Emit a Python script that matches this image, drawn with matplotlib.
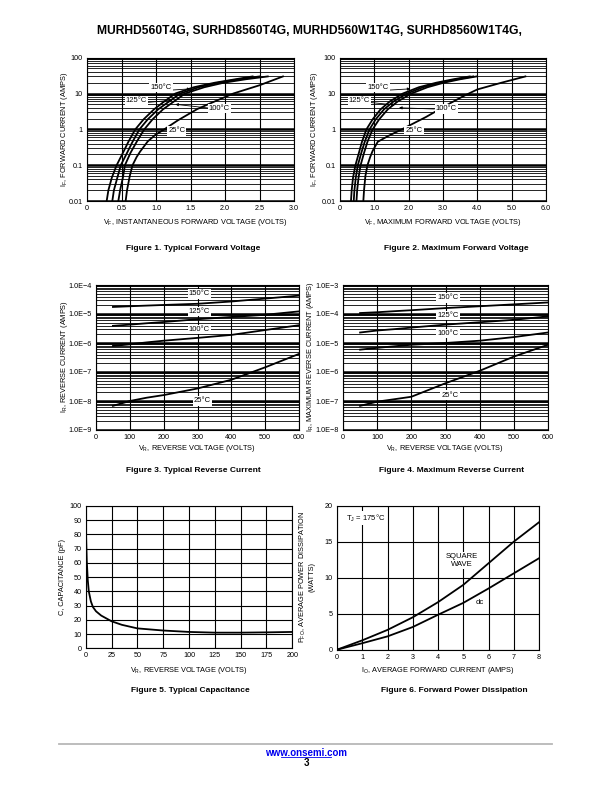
import numpy as np
import matplotlib
matplotlib.use("Agg")
import matplotlib.pyplot as plt
from matplotlib.ticker import LogLocator, NullFormatter

plt.rcParams['font.family'] = ['Liberation Sans', 'DejaVu Sans']
plt.rcParams['mathtext.default'] = 'regular'

W, H = 612, 792

# ---- Figure 1: typical forward voltage ----
if_hot = [0.01, 0.02, 0.045, 0.1, 0.22, 0.45, 1.0, 1.9, 3.6, 6.0, 10, 15, 20, 25, 30]
vf_typ_150 = [0.285, 0.31, 0.36, 0.43, 0.52, 0.60, 0.70, 0.82, 0.97, 1.12, 1.28, 1.55, 1.85, 2.15, 2.40]
vf_typ_125 = [0.367, 0.39, 0.44, 0.49, 0.58, 0.66, 0.76, 0.88, 1.03, 1.19, 1.35, 1.62, 1.90, 2.20, 2.50]
vf_typ_100 = [0.454, 0.48, 0.52, 0.55, 0.63, 0.72, 0.83, 0.95, 1.10, 1.26, 1.42, 1.70, 1.98, 2.30, 2.62]
if_cold = [0.01, 0.02, 0.05, 0.1, 0.17, 0.24, 0.46, 0.7, 1.0, 1.8, 3.7, 6.0, 10, 17, 30]
vf_typ_25 = [0.56, 0.58, 0.62, 0.66, 0.72, 0.77, 0.88, 0.99, 1.12, 1.32, 1.60, 1.85, 2.12, 2.50, 2.84]

# ---- Figure 2: maximum forward voltage ----
vf_max_150 = [0.32, 0.34, 0.38, 0.45, 0.55, 0.64, 0.77, 0.95, 1.18, 1.45, 1.83, 2.30, 2.80, 3.30, 3.78]
vf_max_125 = [0.40, 0.42, 0.46, 0.52, 0.62, 0.72, 0.86, 1.04, 1.28, 1.56, 1.95, 2.42, 2.90, 3.40, 3.88]
vf_max_100 = [0.48, 0.50, 0.54, 0.60, 0.70, 0.80, 0.95, 1.14, 1.39, 1.68, 2.08, 2.55, 3.02, 3.50, 3.98]
if_max_cold = [0.01, 0.02, 0.05, 0.1, 0.17, 0.25, 0.45, 0.65, 1.0, 2.2, 5.3, 8.5, 13, 20, 30]
vf_max_25 = [0.68, 0.70, 0.74, 0.80, 0.88, 0.95, 1.10, 1.40, 1.80, 2.50, 3.20, 3.60, 4.00, 4.70, 5.40]

# ---- Figures 3 / 4: reverse current ----
vr = [50, 100, 150, 200, 300, 400, 500, 600]
ir_typ_150 = [1.75e-5, 1.85e-5, 1.95e-5, 2.05e-5, 2.25e-5, 2.7e-5, 3.4e-5, 4.3e-5]
ir_typ_125 = [3.9e-6, 4.3e-6, 4.8e-6, 5.3e-6, 6.6e-6, 7.9e-6, 9.4e-6, 1.23e-5]
ir_typ_100 = [7.9e-7, 9.0e-7, 1.05e-6, 1.2e-6, 1.5e-6, 1.9e-6, 2.8e-6, 4.1e-6]
ir_typ_25 = [6.8e-9, 1.0e-8, 1.3e-8, 1.6e-8, 2.7e-8, 5.4e-8, 1.45e-7, 4.2e-7]
ir_max_150 = [1.08e-4, 1.15e-4, 1.25e-4, 1.35e-4, 1.6e-4, 1.85e-4, 2.15e-4, 2.5e-4]
ir_max_125 = [2.3e-5, 2.7e-5, 3.0e-5, 3.4e-5, 4.3e-5, 5.2e-5, 6.3e-5, 8.3e-5]
ir_max_100 = [5.9e-6, 6.8e-6, 7.7e-6, 8.7e-6, 1.0e-5, 1.2e-5, 1.6e-5, 2.3e-5]
ir_max_25 = [6.8e-8, 9.5e-8, 1.15e-7, 1.4e-7, 4.1e-7, 1.1e-6, 3.4e-6, 8.7e-6]

# ---- Figure 5: capacitance ----
vr_cap = [0, 0.5, 1, 2, 3, 5, 7, 10, 15, 25, 35, 50, 75, 100, 125, 150, 175, 200]
cap_pf = [92, 75, 62, 48, 40, 33, 29, 26, 23, 19, 16.5, 14, 12.5, 11.5, 11, 11, 11.2, 11.5]

# ---- Figure 6: forward power dissipation ----
io_amps = [0, 1, 2, 3, 4, 5, 6, 7, 8]
pfo_square = [0, 1.3, 2.75, 4.5, 6.6, 9.0, 12.0, 15.0, 17.7]
pfo_dc = [0, 0.9, 1.85, 3.15, 4.85, 6.5, 8.5, 10.6, 12.7]

fig = plt.figure(figsize=(W / 100, H / 100), dpi=100)


def px_axes(l, t, r, b):
    return fig.add_axes([l / W, 1 - b / H, (r - l) / W, (b - t) / H])


def ftext(x, y, s, **kw):
    kw.setdefault('ha', 'center')
    kw.setdefault('va', 'center')
    return fig.text(x / W, 1 - y / H, s, **kw)


def style_axes(ax, log=False):
    for sp in ax.spines.values():
        sp.set_linewidth(0.8)
    ax.tick_params(which='both', length=0, labelsize=5.2, pad=3)
    ax.xaxis.grid(True, which='major', color='k', lw=0.8)
    if log:
        ax.set_yscale('log')
        ax.yaxis.set_minor_locator(LogLocator(base=10, subs=np.arange(2, 10)))
        ax.yaxis.set_minor_formatter(NullFormatter())
        ax.yaxis.grid(True, which='major', color='k', lw=1.8)
        ax.yaxis.grid(True, which='minor', color='k', lw=0.6)
    else:
        ax.yaxis.grid(True, which='major', color='k', lw=0.8)


def tag(ax, x, y, s):
    ax.text(x, y, s, fontsize=5.5, ha='center', va='center',
            bbox=dict(fc='white', ec='none', pad=0.8), zorder=5)


def leader(ax, xy, xytext):
    ax.annotate('', xy=xy, xytext=xytext,
                arrowprops=dict(arrowstyle='-|>', lw=0.6, color='k',
                                mutation_scale=4, shrinkA=0, shrinkB=0), zorder=4)


# Figure 1
ax1 = px_axes(87, 57.7, 294, 201)
style_axes(ax1, log=True)
for v, i in [(vf_typ_150, if_hot), (vf_typ_125, if_hot), (vf_typ_100, if_hot), (vf_typ_25, if_cold)]:
    ax1.plot(v, i, color='k', lw=1.3)
ax1.set_xlim(0, 3.0)
ax1.set_ylim(0.01, 100)
ax1.set_xticks([0, 0.5, 1.0, 1.5, 2.0, 2.5, 3.0])
ax1.set_xticklabels(['0', '0.5', '1.0', '1.5', '2.0', '2.5', '3.0'])
ax1.set_yticks([0.01, 0.1, 1, 10, 100])
ax1.set_yticklabels(['0.01', '0.1', '1', '10', '100'])
leader(ax1, (1.5, 13.5), (1.23, 12.5))
leader(ax1, (1.24, 6.5), (0.85, 5.6))
leader(ax1, (1.28, 5.0), (1.78, 3.9))
tag(ax1, 1.07, 14.8, '150°C')
tag(ax1, 0.715, 6.2, '125°C')
tag(ax1, 1.92, 3.9, '100°C')
tag(ax1, 1.30, 0.9, '25°C')

# Figure 2
ax2 = px_axes(340, 57.7, 546, 201)
style_axes(ax2, log=True)
for v, i in [(vf_max_150, if_hot), (vf_max_125, if_hot), (vf_max_100, if_hot), (vf_max_25, if_max_cold)]:
    ax2.plot(v, i, color='k', lw=1.3)
ax2.set_xlim(0, 6.0)
ax2.set_ylim(0.01, 100)
ax2.set_xticks([0, 1, 2, 3, 4, 5, 6])
ax2.set_xticklabels(['0', '1.0', '2.0', '3.0', '4.0', '5.0', '6.0'])
ax2.set_yticks([0.01, 0.1, 1, 10, 100])
ax2.set_yticklabels(['0.01', '0.1', '1', '10', '100'])
leader(ax2, (2.05, 13.5), (1.45, 12.5))
leader(ax2, (1.6, 4.8), (0.9, 5.6))
leader(ax2, (1.72, 4.0), (2.75, 3.7))
tag(ax2, 1.11, 14.8, '150°C')
tag(ax2, 0.57, 6.2, '125°C')
tag(ax2, 3.10, 3.7, '100°C')
tag(ax2, 2.16, 0.95, '25°C')

# Figure 3
ax3 = px_axes(96, 285, 299, 430)
style_axes(ax3, log=True)
for c in [ir_typ_150, ir_typ_125, ir_typ_100, ir_typ_25]:
    ax3.plot(vr, c, color='k', lw=1.3)
ax3.set_xlim(0, 600)
ax3.set_ylim(1e-9, 1e-4)
ax3.set_xticks(range(0, 601, 100))
ax3.set_yticks([1e-9, 1e-8, 1e-7, 1e-6, 1e-5, 1e-4])
ax3.set_yticklabels(['1.0E\u22129', '1.0E\u22128', '1.0E\u22127', '1.0E\u22126', '1.0E\u22125', '1.0E\u22124'])
tag(ax3, 306, 4.9e-5, '150°C')
tag(ax3, 306, 1.23e-5, '125°C')
tag(ax3, 306, 2.9e-6, '100°C')
tag(ax3, 315, 1.0e-8, '25°C')

# Figure 4
ax4 = px_axes(343, 285, 548, 430)
style_axes(ax4, log=True)
for c in [ir_max_150, ir_max_125, ir_max_100, ir_max_25]:
    ax4.plot(vr, c, color='k', lw=1.3)
ax4.set_xlim(0, 600)
ax4.set_ylim(1e-8, 1e-3)
ax4.set_xticks(range(0, 601, 100))
ax4.set_yticks([1e-8, 1e-7, 1e-6, 1e-5, 1e-4, 1e-3])
ax4.set_yticklabels(['1.0E\u22128', '1.0E\u22127', '1.0E\u22126', '1.0E\u22125', '1.0E\u22124', '1.0E\u22123'])
tag(ax4, 307, 3.6e-4, '150°C')
tag(ax4, 307, 8.9e-5, '125°C')
tag(ax4, 307, 2.1e-5, '100°C')
tag(ax4, 313, 1.6e-7, '25°C')

# Figure 5
ax5 = px_axes(85.7, 506, 292.3, 648.3)
style_axes(ax5)
ax5.plot(vr_cap, cap_pf, color='k', lw=1.3)
ax5.set_xlim(0, 200)
ax5.set_ylim(0, 100)
ax5.set_xticks(range(0, 201, 25))
ax5.set_yticks(range(0, 101, 10))

# Figure 6
ax6 = px_axes(337, 505.7, 539, 649.7)
style_axes(ax6)
ax6.plot(io_amps, pfo_square, color='k', lw=1.3)
ax6.plot(io_amps, pfo_dc, color='k', lw=1.3)
ax6.set_xlim(0, 8)
ax6.set_ylim(0, 20)
ax6.set_xticks(range(0, 9))
ax6.set_yticks([0, 5, 10, 15, 20])
ax6.text(0.35, 18.3, 'T$_J$ = 175°C', fontsize=5.5, ha='left', va='center',
         bbox=dict(fc='white', ec='none', pad=0.8), zorder=5)
ax6.text(4.95, 12.4, 'SQUARE\nWAVE', fontsize=5.5, ha='center', va='center',
         linespacing=1.3, bbox=dict(fc='white', ec='none', pad=0.5), zorder=5)
ax6.text(5.65, 6.55, 'dc', fontsize=5.5, ha='center', va='center',
         bbox=dict(fc='white', ec='none', pad=0.8), zorder=5)

# axis labels
lab = dict(fontsize=5.3)
ftext(195, 223, 'V$_F$, INSTANTANEOUS FORWARD VOLTAGE (VOLTS)', **lab)
ftext(443, 223, 'V$_F$, MAXIMUM FORWARD VOLTAGE (VOLTS)', **lab)
ftext(197, 448, 'V$_R$, REVERSE VOLTAGE (VOLTS)', **lab)
ftext(445, 448, 'V$_R$, REVERSE VOLTAGE (VOLTS)', **lab)
ftext(189, 671, 'V$_R$, REVERSE VOLTAGE (VOLTS)', **lab)
ftext(438, 671, 'I$_O$, AVERAGE FORWARD CURRENT (AMPS)', **lab)
ftext(64, 129, 'I$_F$, FORWARD CURRENT (AMPS)', rotation=90, **lab)
ftext(315, 129, 'I$_F$, FORWARD CURRENT (AMPS)', rotation=90, **lab)
ftext(64, 357, 'I$_R$, REVERSE CURRENT (AMPS)', rotation=90, **lab)
ftext(311, 357, 'I$_R$, MAXIMUM REVERSE CURRENT (AMPS)', rotation=90, **lab)
ftext(63, 577, 'C, CAPACITANCE (pF)', rotation=90, **lab)
ftext(303, 577, 'P$_{FO}$, AVERAGE POWER DISSIPATION', rotation=90, **lab)
ftext(312.5, 577, '(WATTS)', rotation=90, **lab)

# captions
cap = dict(fontsize=6, fontweight='bold')
ftext(193, 248, 'Figure 1. Typical Forward Voltage', **cap)
ftext(456, 248, 'Figure 2. Maximum Forward Voltage', **cap)
ftext(193, 470, 'Figure 3. Typical Reverse Current', **cap)
ftext(452, 470, 'Figure 4. Maximum Reverse Current', **cap)
ftext(190, 690, 'Figure 5. Typical Capacitance', **cap)
ftext(454, 690, 'Figure 6. Forward Power Dissipation', **cap)

# page header / footer
ftext(309, 31, 'MURHD560T4G, SURHD8560T4G, MURHD560W1T4G, SURHD8560W1T4G,',
      fontsize=8.7, fontweight='bold')
fig.add_artist(plt.Line2D([59 / W, 552 / W], [1 - 744 / H, 1 - 744 / H],
                          color='#b8b8b8', lw=1.3))
ftext(306, 752.5, 'www.onsemi.com', fontsize=7, fontweight='bold', color='#0000ee')
fig.add_artist(plt.Line2D([281 / W, 331 / W], [1 - 757 / H, 1 - 757 / H],
                          color='#0000ee', lw=0.6))
ftext(306, 762.5, '3', fontsize=7, fontweight='bold')

fig.savefig('out.png', dpi=100)
